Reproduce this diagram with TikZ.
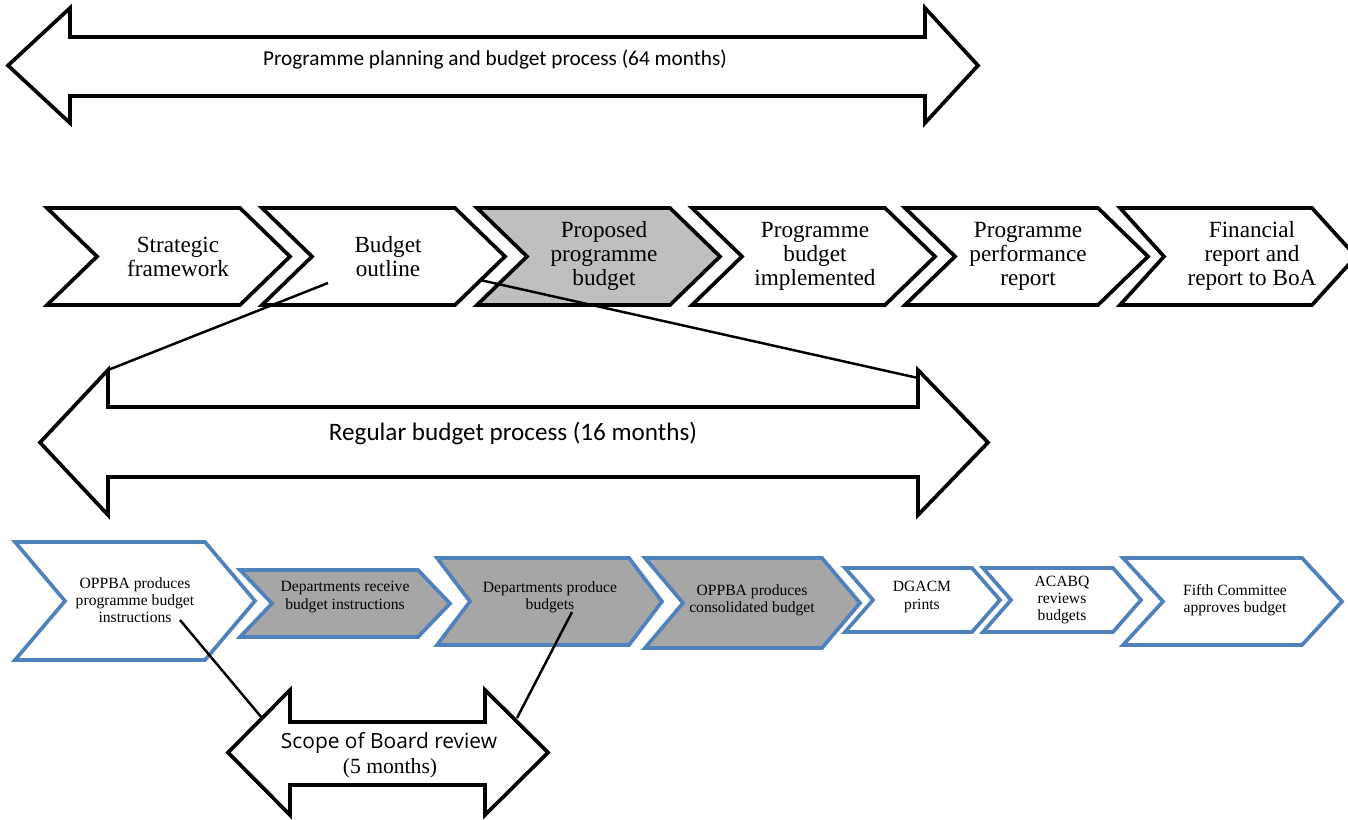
\documentclass[tikz,border=0pt]{standalone}
\usepackage{fontspec}
\setmainfont{Liberation Serif}
\newfontfamily\calibrifont{Carlito}
\newfontfamily\segoefont{Open Sans}
\usepackage{xcolor}

\definecolor{ublue}{RGB}{79,129,189}

% chevron outline: x, y top, width, height, point depth, style
\newcommand{\chevron}[6]{%
  \draw[#6] (#1,#2) -- ({#1+#3-#5},#2) -- ({#1+#3},{#2+#4/2})
    -- ({#1+#3-#5},{#2+#4}) -- (#1,{#2+#4}) -- ({#1+#5},{#2+#4/2}) -- cycle;}

% double block arrow: tip L, base L, base R, tip R, head top, shaft top, shaft bottom, head bottom
\newcommand{\dblarrow}[8]{%
  \draw[arrowbox] (#1,{(#5+#8)/2}) -- (#2,#5) -- (#2,#6) -- (#3,#6) -- (#3,#5)
    -- (#4,{(#5+#8)/2}) -- (#3,#8) -- (#3,#7) -- (#2,#7) -- (#2,#8) -- cycle;}

\begin{document}
\begin{tikzpicture}[
  x=0.02cm, y=-0.02cm,
  arrowbox/.style={draw=black, line width=2.1pt, fill=white},
  chevblk/.style={draw=black, line width=2.1pt, fill=white},
  chevgray/.style={chevblk, fill=gray!50},
  chevblue/.style={draw=ublue, line width=2.1pt, fill=white},
  chevbluegray/.style={chevblue, fill=gray!70},
  toptext/.style={font=\fontsize{13.2}{13.6}\selectfont, align=center, inner sep=0pt},
  bottext/.style={font=\fontsize{8.9}{9.8}\selectfont, align=center, inner sep=0pt},
  link/.style={line width=1.4pt}
]
\useasboundingbox (0,0) rectangle (1348,820);

% Programme planning arrow
\dblarrow{8}{70}{925}{978}{8}{37}{96}{123}
\node[font=\calibrifont\fontsize{12.1}{14}\selectfont] (plan) at (495,60)
   {Programme planning and budget process (64 months)};

% Programme cycle chevrons
\chevron{47}{208}{243}{97}{50}{chevblk}
\chevron{262}{208}{243}{97}{50}{chevblk}
\chevron{477}{208}{243}{97}{50}{chevgray}
\chevron{692}{208}{243}{97}{50}{chevblk}
\chevron{905}{208}{243}{97}{50}{chevblk}
\chevron{1120}{208}{236}{97}{44}{chevblk}
\node[toptext] (sf) at (178,257) {Strategic\\framework};
\node[toptext] (bo) at (388,257) {Budget\\outline};
\node[toptext] (ppb) at (604,256) {Proposed\\programme\\budget};
\node[toptext] (pbi) at (815,256) {Programme\\budget\\implemented};
\node[toptext] (ppr) at (1028,256) {Programme\\performance\\report};
\node[toptext] (fr) at (1252,256) {Financial\\report and\\report to BoA};

% Regular budget arrow
\dblarrow{40}{108}{918}{988}{370}{407}{477}{515}
\node[font=\calibrifont\fontsize{14.3}{16}\selectfont] (reg) at (513,433)
   {Regular budget process (16 months)};

% Regular budget steps
\chevron{15}{542}{240}{118}{50}{chevblue}
\chevron{240}{570}{210}{67}{32}{chevbluegray}
\chevron{437}{558}{225}{87}{33}{chevbluegray}
\chevron{645}{558}{215}{90}{38}{chevbluegray}
\chevron{845}{568}{155}{64}{28}{chevblue}
\chevron{983}{568}{158}{64}{28}{chevblue}
\chevron{1123}{558}{219}{87}{40}{chevblue}
\node[bottext] (obi) at (135,600) {OPPBA produces\\programme budget\\instructions};
\node[bottext] (dri) at (345,597) {Departments receive\\budget instructions};
\node[bottext] (dpb) at (550,597) {Departments produce\\budgets};
\node[bottext] (ocb) at (752,600) {OPPBA produces\\consolidated budget};
\node[bottext] (dgp) at (922,597) {DGACM\\prints};
\node[bottext] (acr) at (1062,600) {ACABQ\\reviews\\budgets};
\node[bottext] (fca) at (1235,600) {Fifth Committee\\approves budget};

% Scope of Board review arrow
\dblarrow{228}{290}{485}{548}{690}{722}{785}{815}
\node[font=\segoefont\fontsize{11.9}{13}\selectfont] (scope) at (389,743) {Scope of Board review};
\node[font=\fontsize{12.3}{14}\selectfont] (months) at (390,768) {(5 months)};

% Zoom lines
\coordinate (bo-l) at (328,283);
\coordinate (bo-r) at (480,280);
\coordinate (reg-l) at (108,370);
\coordinate (reg-r) at (918,378);
\coordinate (obi-e) at (180,620);
\coordinate (dpb-e) at (572,612);
\coordinate (scope-l) at (262,718);
\coordinate (scope-r) at (517,718);
\draw[link] (bo-l) -- (reg-l);
\draw[link] (bo-r) -- (reg-r);
\draw[link] (obi-e) -- (scope-l);
\draw[link] (dpb-e) -- (scope-r);

\end{tikzpicture}
\end{document}
